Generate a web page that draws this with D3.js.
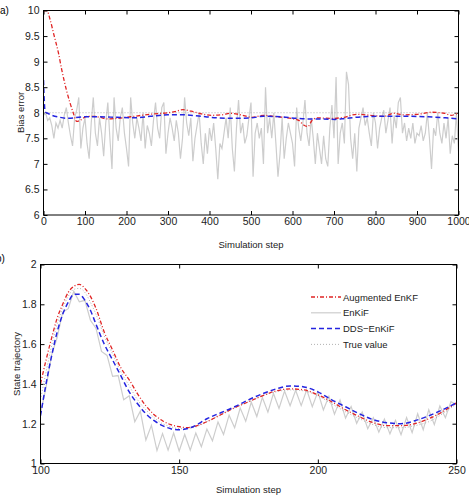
<!DOCTYPE html>
<html>
<head>
<meta charset="utf-8">
<script src="https://cdn.jsdelivr.net/npm/d3@7"></script>
<style>
  body { margin: 0; background: #fff; }
  svg { font-family: "Liberation Sans", Arial, sans-serif; }
  .tick text { fill: #222; }
</style>
</head>
<body>
<div id="chart"></div>
<script>
// ---- panel a) data: bias error over 1000 steps ----
var aTicksX = [0, 100, 200, 300, 400, 500, 600, 700, 800, 900, 1000];
var aTicksY = [6, 6.5, 7, 7.5, 8, 8.5, 9, 9.5, 10];

// EnKiF sampled every 5 steps (0..1000)
var aEnkifSteps = d3.range(0, 1001, 5);
var aEnkifVals = [
  7.95, 8.0, 7.85, 7.9, 7.75, 7.5, 7.8, 7.7, 7.85, 7.7,
  7.95, 8.1, 7.8, 7.55, 7.35, 7.9, 8.05, 8.3, 7.3, 7.7,
  7.9, 7.4, 7.1, 7.8, 8.3, 7.6, 7.35, 7.9, 7.6, 7.15,
  7.8, 8.2, 7.5, 6.9, 8.3, 7.7, 7.45, 7.9, 8.1, 7.6,
  7.3, 6.95, 8.3, 7.8, 7.5, 7.9, 7.7, 7.45, 8.0, 7.3,
  7.75, 7.6, 7.35, 7.85, 8.2, 7.7, 7.5, 8.1, 8.2, 7.2,
  7.6, 7.9, 7.7, 7.45, 7.85, 7.6, 7.1, 7.5, 8.3, 7.8,
  7.55, 7.9, 7.05, 7.5, 7.75, 8.0, 7.4, 7.0, 7.6, 7.2,
  7.7, 7.45, 7.8, 7.3, 6.7, 7.4, 7.3, 7.6, 7.9, 7.5,
  8.1, 7.3, 6.85, 7.7, 8.25, 7.6, 7.8, 7.4, 7.55, 7.9,
  8.2, 6.75, 7.6, 7.8, 7.5, 7.7, 7.0, 8.5, 7.6, 7.9,
  7.5, 8.0, 7.4, 6.75, 7.2, 7.9, 7.1, 7.5, 7.8, 7.6,
  7.4, 6.95, 8.1, 7.7, 7.45, 7.8, 8.25, 7.6, 7.35, 7.9,
  7.5, 7.0, 7.6, 7.3, 7.0, 7.55, 7.1, 6.95, 7.7, 8.15,
  7.5, 8.7, 7.0, 7.6, 7.8, 7.4, 8.8, 8.55, 7.5, 7.1,
  7.6, 6.85, 7.7, 7.9, 8.1, 7.75, 7.9, 7.6, 7.35, 8.0,
  7.8, 7.3, 7.7, 7.9, 8.05, 7.6, 7.85, 8.1, 7.4, 7.95,
  7.7, 8.2, 8.3, 7.6, 7.8, 7.45, 7.7, 7.5, 7.8, 7.4,
  7.6, 7.55, 7.75, 7.45, 7.6, 8.0, 7.5, 6.9, 7.7, 7.55,
  8.0, 7.6, 7.4, 7.8, 7.5, 7.9, 7.2, 7.55, 7.4, 8.0,
  7.25
];

var aAugSteps = [0, 8, 16, 24, 36, 44, 56, 64, 72, 80, 88, 104, 120, 137, 153, 177, 200, 218, 258, 299,
  316, 336, 356, 380, 404, 430, 451, 475, 502, 530, 554, 578, 602, 615, 627, 637, 647, 660, 692, 724,
  740, 756, 788, 820, 844, 868, 902, 934, 966, 982, 1000];
var aAugVals = [10.0, 10.0, 9.82, 9.56, 9.17, 8.84, 8.42, 8.19, 7.99, 7.83, 7.85, 7.93, 7.93, 7.91, 7.88, 7.89, 7.91, 7.93, 7.97, 8.0,
  8.02, 8.06, 8.03, 7.98, 7.95, 7.96, 7.99, 7.96, 7.91, 7.95, 7.93, 7.91, 7.88, 7.85, 7.76, 7.73, 7.85, 7.9, 7.89, 7.91,
  7.95, 7.97, 7.95, 7.93, 7.99, 7.96, 7.97, 8.01, 7.99, 7.95, 8.0];

var aDdsSteps = [0, 2, 4, 10, 20, 40, 60, 96, 137, 177, 218, 258, 299, 339, 380, 420, 460, 500, 530, 570,
  610, 635, 670, 703, 727, 767, 807, 847, 887, 927, 968, 1000];
var aDdsVals = [8.64, 8.2, 8.02, 7.99, 7.95, 7.91, 7.89, 7.92, 7.92, 7.91, 7.9, 7.93, 7.96, 7.96, 7.93, 7.9, 7.89, 7.9, 7.93, 7.92,
  7.89, 7.88, 7.88, 7.87, 7.89, 7.92, 7.93, 7.93, 7.93, 7.92, 7.9, 7.88];

var aTrueSteps = [0, 1000];
var aTrueVals = [8, 8];

// ---- panel b) data: state trajectory, steps 100..250 ----
var bTicksX = [100, 150, 200, 250];
var bTicksY = [1, 1.2, 1.4, 1.6, 1.8, 2];

var bAugSteps = [100, 102, 104, 106, 108, 110, 112, 114, 116, 118, 120, 123, 126, 129, 132, 135, 138, 141, 144, 147,
  150, 153, 155, 160, 165, 170, 175, 180, 185, 190, 195, 200, 205, 210, 215, 220, 225, 230, 235, 240, 245, 250];
var bAugVals = [1.40, 1.52, 1.63, 1.73, 1.80, 1.86, 1.89, 1.90, 1.88, 1.84, 1.78, 1.66, 1.57, 1.48, 1.42, 1.35, 1.29, 1.245, 1.215, 1.195,
  1.185, 1.18, 1.185, 1.21, 1.245, 1.28, 1.31, 1.34, 1.365, 1.375, 1.37, 1.345, 1.31, 1.27, 1.235, 1.205, 1.19, 1.19, 1.2, 1.225, 1.26, 1.305];

var bDdsSteps = [100, 102, 104, 106, 108, 110, 112, 114, 116, 118, 120, 123, 126, 129, 132, 135, 138, 141, 144, 147,
  150, 155, 160, 165, 170, 175, 180, 185, 190, 195, 200, 205, 210, 215, 220, 225, 230, 235, 240, 245, 250];
var bDdsVals = [1.24, 1.40, 1.54, 1.66, 1.75, 1.81, 1.85, 1.85, 1.82, 1.77, 1.70, 1.60, 1.52, 1.44, 1.36, 1.30, 1.25, 1.215, 1.19, 1.175,
  1.17, 1.185, 1.225, 1.255, 1.285, 1.32, 1.35, 1.375, 1.39, 1.385, 1.36, 1.32, 1.285, 1.25, 1.22, 1.205, 1.2, 1.215, 1.24, 1.27, 1.305];

var bTrueSteps = [100, 102, 104, 106, 108, 110, 112, 114, 116, 118, 120, 123, 126, 129, 132, 135, 138, 141, 144, 147,
  150, 155, 160, 165, 170, 175, 180, 185, 190, 195, 200, 205, 210, 215, 220, 225, 230, 235, 240, 245, 250];
var bTrueVals = [1.32, 1.46, 1.59, 1.70, 1.78, 1.84, 1.875, 1.88, 1.86, 1.81, 1.75, 1.64, 1.55, 1.46, 1.39, 1.32, 1.27, 1.23, 1.20, 1.185,
  1.175, 1.18, 1.21, 1.245, 1.28, 1.31, 1.34, 1.36, 1.37, 1.365, 1.34, 1.30, 1.26, 1.225, 1.195, 1.18, 1.18, 1.19, 1.21, 1.25, 1.30];

// EnKiF zig-zag, every 2 steps (100..250)
var bEnkifSteps = d3.range(100, 251, 2);
var bEnkifVals = [
  1.25, 1.383, 1.545, 1.633, 1.76, 1.778, 1.865, 1.813, 1.82, 1.72,
  1.68, 1.563, 1.543, 1.438, 1.442, 1.32, 1.34, 1.21, 1.263, 1.118,
  1.192, 1.065, 1.15, 1.067, 1.153, 1.063, 1.146, 1.067, 1.153, 1.084,
  1.173, 1.114, 1.209, 1.146, 1.243, 1.18, 1.279, 1.212, 1.308, 1.236,
  1.332, 1.258, 1.352, 1.277, 1.364, 1.29, 1.368, 1.291, 1.37, 1.285,
  1.36, 1.269, 1.338, 1.248, 1.319, 1.228, 1.286, 1.202, 1.259, 1.175,
  1.23, 1.157, 1.223, 1.149, 1.217, 1.145, 1.231, 1.155, 1.25, 1.17,
  1.27, 1.195, 1.289, 1.23, 1.311, 1.295
];

var legendNames = ["Augmented EnKF", "EnKiF", "DDS\u2212EnKiF", "True value"];

// ---- styles ----
var styles = {
  aug:   { color: "#e02424", width: 1.3, dash: "4,2,1,2" },
  enkif: { color: "#cdcdcd", width: 1.2, dash: null },
  dds:   { color: "#2424e0", width: 1.5, dash: "5,3" },
  truth: { color: "#a8a8a8", width: 0.9, dash: "1,2" }
};

var svg = d3.select("#chart").append("svg")
    .attr("width", 469)
    .attr("height", 501);

function makePanel(id, box, xDom, yDom, xTicks, yTicks) {
    var x = d3.scaleLinear().domain(xDom).range([box.left, box.right]);
    var y = d3.scaleLinear().domain(yDom).range([box.bottom, box.top]);
    var fmt = d => String(d);

    // bottom axis with labels, ticks inward
    svg.append("g")
        .attr("transform", `translate(0, ${box.bottom})`)
        .call(d3.axisBottom(x).tickValues(xTicks).tickFormat(fmt).tickSizeInner(-4).tickSizeOuter(0).tickPadding(3))
        .call(g => g.select(".domain").remove())
        .call(g => g.selectAll("text").attr("font-size", 10.5));
    // top axis ticks only
    svg.append("g")
        .attr("transform", `translate(0, ${box.top})`)
        .call(d3.axisTop(x).tickValues(xTicks).tickFormat("").tickSizeInner(-4).tickSizeOuter(0))
        .call(g => g.select(".domain").remove());
    // left axis with labels
    svg.append("g")
        .attr("transform", `translate(${box.left}, 0)`)
        .call(d3.axisLeft(y).tickValues(yTicks).tickFormat(fmt).tickSizeInner(-4).tickSizeOuter(0).tickPadding(4))
        .call(g => g.select(".domain").remove())
        .call(g => g.selectAll("text").attr("font-size", 10.5));
    // right axis ticks only
    svg.append("g")
        .attr("transform", `translate(${box.right}, 0)`)
        .call(d3.axisRight(y).tickValues(yTicks).tickFormat("").tickSizeInner(-4).tickSizeOuter(0))
        .call(g => g.select(".domain").remove());

    svg.append("clipPath").attr("id", id)
        .append("rect")
        .attr("x", box.left).attr("y", box.top)
        .attr("width", box.right - box.left).attr("height", box.bottom - box.top);

    var plot = svg.append("g").attr("clip-path", `url(#${id})`);
    return { x: x, y: y, plot: plot, box: box };
}

function drawLine(p, steps, vals, st, curve) {
    var pts = steps.map((s, i) => [s, vals[i]]);
    var line = d3.line()
        .x(d => p.x(d[0]))
        .y(d => p.y(d[1]))
        .curve(curve || d3.curveLinear);
    p.plot.append("path")
        .datum(pts)
        .attr("d", line)
        .attr("fill", "none")
        .attr("stroke", st.color)
        .attr("stroke-width", st.width)
        .attr("stroke-dasharray", st.dash);
}

function drawBox(p) {
    svg.append("rect")
        .attr("x", p.box.left).attr("y", p.box.top)
        .attr("width", p.box.right - p.box.left)
        .attr("height", p.box.bottom - p.box.top)
        .attr("fill", "none")
        .attr("stroke", "#000")
        .attr("stroke-width", 1);
}

// ---- panel a ----
var pa = makePanel("clipA", { left: 43.5, right: 458.5, top: 10.5, bottom: 215 }, [0, 1000], [6, 10], aTicksX, aTicksY);
drawLine(pa, aEnkifSteps, aEnkifVals, styles.enkif);
drawLine(pa, aTrueSteps, aTrueVals, styles.truth);
drawLine(pa, aAugSteps, aAugVals, styles.aug, d3.curveMonotoneX);
drawLine(pa, aDdsSteps, aDdsVals, styles.dds, d3.curveMonotoneX);
drawBox(pa);

svg.append("text").attr("x", 0).attr("y", 14).attr("font-size", 10).text("a)");
svg.append("text")
    .attr("transform", "translate(20, 112.5) rotate(-90)")
    .attr("text-anchor", "middle").attr("dominant-baseline", "central")
    .attr("font-size", 9.5).attr("fill", "#222")
    .text("Bias error");
svg.append("text")
    .attr("x", 251).attr("y", 247.5)
    .attr("text-anchor", "middle")
    .attr("font-size", 9.5).attr("fill", "#222")
    .text("Simulation step");

// ---- panel b ----
var pb = makePanel("clipB", { left: 40.5, right: 456.5, top: 264.5, bottom: 463.5 }, [100, 250], [1, 2], bTicksX, bTicksY);
drawLine(pb, bEnkifSteps, bEnkifVals, styles.enkif);
drawLine(pb, bTrueSteps, bTrueVals, styles.truth, d3.curveMonotoneX);
drawLine(pb, bAugSteps, bAugVals, styles.aug, d3.curveMonotoneX);
drawLine(pb, bDdsSteps, bDdsVals, styles.dds, d3.curveMonotoneX);
drawBox(pb);

svg.append("text").attr("x", -4).attr("y", 262).attr("font-size", 10).text("b)");
svg.append("text")
    .attr("transform", "translate(16, 364) rotate(-90)")
    .attr("text-anchor", "middle").attr("dominant-baseline", "central")
    .attr("font-size", 9.5).attr("fill", "#222")
    .text("State trajectory");
svg.append("text")
    .attr("x", 248.5).attr("y", 492.5)
    .attr("text-anchor", "middle")
    .attr("font-size", 9.5).attr("fill", "#222")
    .text("Simulation step");

// ---- legend ----
var legendStyles = [styles.aug, styles.enkif, styles.dds, styles.truth];
var legend = svg.append("g").attr("transform", "translate(311, 297)");
legendNames.forEach(function(name, i) {
    var row = legend.append("g").attr("transform", `translate(0, ${i * 15.8})`);
    row.append("line")
        .attr("x1", 0).attr("x2", 30).attr("y1", 0).attr("y2", 0)
        .attr("stroke", legendStyles[i].color)
        .attr("stroke-width", legendStyles[i].width)
        .attr("stroke-dasharray", legendStyles[i].dash);
    row.append("text")
        .attr("x", 32).attr("y", 0)
        .attr("dominant-baseline", "central")
        .attr("font-size", 9.5).attr("fill", "#222")
        .text(name);
});
</script>
</body>
</html>
